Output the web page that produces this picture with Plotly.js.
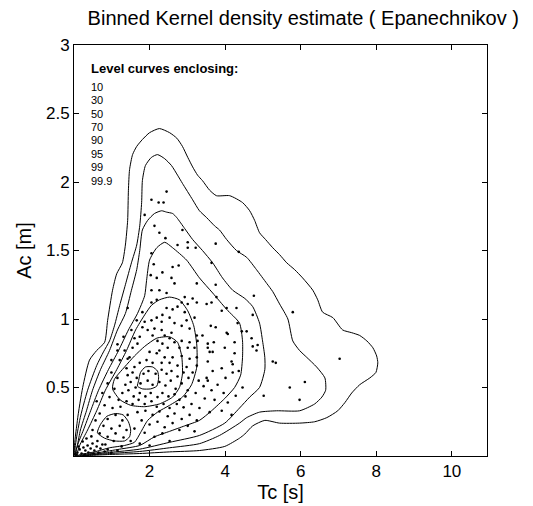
<!DOCTYPE html>
<html><head><meta charset="utf-8">
<script src="https://cdn.plot.ly/plotly-3.0.1.min.js"></script>
<style>html,body{margin:0;padding:0;background:#fff}#chart{width:533px;height:506px}</style>
</head><body><div id="chart"></div>
<script>
// Level labels
const levels = ['10','30','50','70','90','95','99','99.9'];
const xTicks = [2,4,6,8,10];
const yTicks = [0.5,1,1.5,2,2.5,3];

// Contour curves (Tc [s], Ac [m])
const c999x = [0.03,0.09,0.23,0.41,0.60,0.81,0.89,1.02,1.13,1.28,1.36,1.42,1.44,1.47,1.55,1.66,1.81,2.00,2.26,2.53,2.72,2.87,3.01,3.14,3.27,3.40,3.59,3.77,4.12,4.46,4.65,4.78,4.91,5.07,5.26,5.44,5.63,5.84,6.05,6.32,6.45,6.58,6.85,7.11,7.35,7.56,7.75,7.91,8.01,8.04,7.99,7.83,7.56,7.35,7.17,6.98,6.69,6.37,5.97,5.44,5.05,4.73,4.52,4.38,3.99,3.32,2.53,1.74,0.94,0.41,0.03];
const c999y = [0.00,0.26,0.50,0.70,0.77,0.83,0.99,1.21,1.33,1.41,1.54,1.72,1.94,2.09,2.20,2.26,2.31,2.36,2.39,2.36,2.32,2.26,2.18,2.11,2.05,2.01,1.94,1.90,1.90,1.85,1.79,1.72,1.63,1.58,1.52,1.47,1.41,1.36,1.30,1.21,1.14,1.05,1.01,0.92,0.90,0.88,0.84,0.79,0.73,0.68,0.61,0.57,0.52,0.46,0.39,0.33,0.28,0.25,0.24,0.24,0.26,0.22,0.16,0.13,0.07,0.04,0.03,0.018,0.011,0.004,0.00];
const c99x = [0.04,0.15,0.36,0.60,0.78,0.94,1.07,1.21,1.36,1.52,1.66,1.74,1.79,1.81,1.89,2.05,2.21,2.40,2.58,2.74,2.87,3.14,3.32,3.51,3.72,3.85,4.04,4.30,4.57,4.83,5.10,5.26,5.44,5.66,5.79,5.97,6.16,6.42,6.64,6.66,6.56,6.37,5.97,5.36,4.91,4.57,4.38,3.85,3.32,2.53,1.74,0.94,0.41,0.04];
const c99y = [0.00,0.26,0.48,0.66,0.76,0.84,0.95,1.10,1.25,1.41,1.54,1.68,1.85,2.01,2.12,2.18,2.20,2.17,2.12,2.05,1.99,1.87,1.79,1.74,1.68,1.65,1.58,1.50,1.45,1.36,1.26,1.20,1.11,1.00,0.84,0.77,0.72,0.65,0.57,0.48,0.43,0.38,0.33,0.33,0.32,0.28,0.24,0.15,0.09,0.06,0.033,0.018,0.007,0.00];
const c95x = [0.04,0.09,0.17,0.33,0.49,0.70,0.94,1.15,1.36,1.52,1.66,1.74,1.81,1.95,2.13,2.32,2.45,2.61,2.72,2.93,3.14,3.40,3.67,3.93,4.20,4.52,4.73,4.91,4.99,5.05,5.05,4.91,4.65,4.38,3.99,3.32,2.53,1.74,0.94,0.41,0.04];
const c95y = [0.00,0.077,0.19,0.33,0.48,0.63,0.77,0.92,1.04,1.21,1.36,1.50,1.65,1.72,1.77,1.79,1.78,1.77,1.74,1.66,1.58,1.50,1.41,1.30,1.21,1.15,1.09,0.97,0.84,0.72,0.63,0.50,0.43,0.35,0.24,0.15,0.10,0.05,0.026,0.011,0.00];
const c90x = [0.04,0.09,0.25,0.44,0.65,0.91,1.18,1.44,1.68,1.87,1.92,2.00,2.19,2.40,2.61,2.98,3.32,3.67,4.04,4.38,4.46,4.46,4.41,4.25,3.99,3.64,3.32,2.93,2.53,2.13,1.74,1.21,0.68,0.28,0.04];
const c90y = [0.00,0.077,0.19,0.33,0.48,0.63,0.77,0.92,1.04,1.17,1.28,1.43,1.52,1.56,1.52,1.43,1.30,1.19,1.07,0.97,0.84,0.72,0.59,0.50,0.42,0.33,0.26,0.22,0.18,0.14,0.077,0.05,0.026,0.011,0.00];
const c70x = [0.07,0.15,0.36,0.60,0.83,1.13,1.39,1.63,1.87,2.05,2.26,2.53,2.79,3.01,3.17,3.25,3.25,3.11,2.87,2.53,2.21,1.95,1.76,1.60,1.34,0.94,0.54,0.15,0.07];
const c70y = [0.00,0.077,0.19,0.33,0.48,0.63,0.77,0.92,1.03,1.10,1.14,1.16,1.14,1.06,0.95,0.81,0.65,0.52,0.43,0.37,0.32,0.26,0.17,0.10,0.077,0.06,0.03,0.01,0.00];
const c50x = [2.19,2.53,2.74,2.85,2.87,2.79,2.61,2.26,1.87,1.50,1.22,1.02,1.07,1.34,1.60,1.87,2.19];
const c50y = [0.86,0.87,0.83,0.73,0.60,0.50,0.43,0.38,0.36,0.37,0.41,0.49,0.56,0.65,0.73,0.80,0.86];
const c50bx = [0.62,0.70,0.87,1.10,1.30,1.44,1.50,1.47,1.34,1.07,0.81,0.62];
const c50by = [0.17,0.23,0.29,0.31,0.30,0.25,0.19,0.14,0.11,0.11,0.13,0.17];
const c30x = [1.71,1.76,1.89,2.08,2.21,2.24,2.19,2.03,1.81,1.68,1.71];
const c30y = [0.55,0.61,0.65,0.65,0.62,0.57,0.51,0.49,0.49,0.51,0.55];

// Observations (Tc, Ac)
const tcPoints = [
2.45,2.05,2.24,2.37,1.87,2.13,2.26,2.87,2.42,2.74,3.01,3.22,3.01,3.75,4.36,3.64,3.25,3.75,4.76,2.05,
2.11,2.03,2.19,2.34,2.61,2.77,2.66,2.58,2.26,2.45,2.05,3.77,3.14,2.93,2.85,3.01,3.25,3.51,3.64,3.91,
4.04,4.30,4.73,2.19,2.05,1.42,5.79,3.62,3.75,4.33,4.44,4.57,4.70,4.86,4.73,4.83,4.07,4.25,3.70,3.54,
3.99,4.25,4.17,4.20,5.26,5.34,7.03,3.59,3.54,3.67,3.91,4.20,4.36,3.51,6.11,5.97,4.46,5.02,5.71,4.01,3.54,
2.45,2.61,2.74,2.93,2.34,2.53,2.98,3.19,2.19,2.05,1.87,2.32,2.66,2.85,4.04,3.06,2.32,1.81,2.13,2.58,
3.25,3.40,3.27,1.74,2.08,2.40,2.53,2.66,2.85,3.06,2.21,2.34,3.54,3.67,3.19,3.01,2.79,2.48,2.26,2.00,
2.19,2.40,2.61,2.85,3.06,3.25,1.68,1.55,1.47,1.74,1.92,2.08,2.32,2.53,2.74,2.98,3.25,1.39,1.60,
1.42,1.55,1.66,1.84,1.97,2.16,2.32,2.45,2.58,2.74,2.90,3.03,1.36,1.50,1.63,1.76,1.95,2.08,2.26,2.42,2.56,2.69,2.85,3.01,
1.28,1.44,1.58,1.74,1.89,2.03,2.21,2.34,2.50,2.66,2.79,2.95,1.39,1.55,1.71,1.87,2.05,2.19,2.37,2.53,2.72,2.90,3.11,
0.99,1.15,0.89,1.07,0.75,0.94,1.18,0.60,0.81,1.02,1.23,0.68,0.89,1.10,1.28,1.42,0.57,0.78,0.99,1.21,1.39,
0.49,0.68,0.89,1.10,1.31,1.50,0.62,0.83,1.05,1.26,
0.09,0.15,0.20,0.25,0.30,0.36,0.38,0.44,0.49,0.54,0.60,0.65,0.70,0.75,0.81,0.23,0.33,0.46,0.12,0.07,0.28,0.52,0.89,0.99,1.15,
1.68,1.89,2.08,2.26,2.48,2.66,2.85,3.06,3.25,1.79,2.00,2.21,2.40,2.61,2.79,3.01,3.19,1.60,1.87,2.13,2.34,2.53,1.74,2.00,
3.14,3.30,3.43,3.64,3.80,3.96,3.22,3.46,3.72,4.07,4.28,3.32,3.59,3.91,4.17,
1.52,1.66,1.34,1.21,1.81,1.60,1.42,1.95,1.15,0.99,1.15,1.31];
const acPoints = [
1.93,1.87,1.85,1.85,1.76,1.68,1.63,1.65,1.59,1.54,1.56,1.52,1.52,1.55,1.49,1.41,1.26,1.25,1.17,1.48,
1.40,1.32,1.30,1.34,1.38,1.39,1.26,1.30,1.21,1.19,1.21,1.16,1.15,1.16,1.12,1.11,1.12,1.11,1.12,1.06,
1.08,1.08,1.03,1.14,1.12,1.08,1.05,0.95,0.94,0.97,0.91,0.91,0.86,0.81,0.80,0.77,0.89,0.83,0.83,0.79,
0.79,0.75,0.69,0.67,0.69,0.68,0.71,0.76,0.69,0.62,0.64,0.61,0.62,0.57,0.54,0.41,0.50,0.44,0.50,0.57,0.55,
1.08,1.07,1.09,1.05,1.03,1.01,0.99,1.01,1.01,0.99,0.98,0.98,0.97,0.95,0.90,0.93,0.92,0.94,0.93,0.90,
0.88,0.88,0.84,0.87,0.88,0.88,0.86,0.83,0.84,0.83,0.84,0.82,0.82,0.76,0.79,0.79,0.79,0.79,0.77,0.76,
0.75,0.72,0.72,0.73,0.71,0.72,0.82,0.79,0.72,0.68,0.70,0.68,0.68,0.68,0.66,0.65,0.66,0.64,0.65,
0.59,0.61,0.57,0.60,0.62,0.60,0.63,0.60,0.62,0.58,0.61,0.57,0.52,0.54,0.50,0.53,0.55,0.52,0.54,0.515,0.55,0.49,0.53,0.48,
0.46,0.48,0.435,0.46,0.435,0.46,0.43,0.46,0.435,0.45,0.41,0.435,0.40,0.38,0.41,0.38,0.40,0.36,0.38,0.35,0.38,0.355,0.38,
0.61,0.57,0.53,0.49,0.46,0.43,0.41,0.40,0.37,0.35,0.36,0.31,0.27,0.30,0.26,0.30,0.26,0.22,0.20,0.22,0.19,
0.19,0.165,0.14,0.165,0.135,0.11,0.11,0.084,0.11,0.07,
0.026,0.048,0.018,0.062,0.04,0.077,0.026,0.055,0.091,0.04,0.069,0.026,0.055,0.084,0.033,0.106,0.128,0.143,0.069,0.011,0.011,0.018,0.048,0.026,0.04,
0.32,0.33,0.30,0.325,0.29,0.31,0.27,0.30,0.26,0.26,0.23,0.25,0.21,0.24,0.19,0.22,0.18,0.20,0.17,0.14,0.165,0.11,0.09,0.077,
0.61,0.55,0.51,0.48,0.52,0.46,0.46,0.42,0.41,0.39,0.44,0.35,0.32,0.33,0.30,
0.92,0.99,0.77,0.70,1.05,0.86,0.71,0.92,0.77,0.70,0.815,0.87];

const FONT = 'Liberation Sans, Arial, Helvetica, sans-serif';
const curves = [
  [c999x,c999y,'99.9'],[c99x,c99y,'99'],[c95x,c95y,'95'],[c90x,c90y,'90'],
  [c70x,c70y,'70'],[c50x,c50y,'50'],[c50bx,c50by,'50'],[c30x,c30y,'30']
];
const traces = curves.map(c => ({
  type:'scatter', mode:'lines', x:c[0], y:c[1], name:c[2],
  line:{color:'#000', width:1, shape:'spline', smoothing:0.6},
  hoverinfo:'skip', showlegend:false
}));
traces.push({
  type:'scatter', mode:'markers', x:tcPoints, y:acPoints,
  marker:{color:'#000', size:2.6}, showlegend:false, hoverinfo:'x+y'
});

const annotations = [{
  xref:'paper', yref:'paper', x:0.037, y:0.943, xanchor:'left', yanchor:'middle',
  text:'<b>Level curves enclosing:</b>', showarrow:false, font:{family:FONT, size:13, color:'#000'}
}];
levels.forEach((lv,i) => {
  annotations.push({
    xref:'paper', yref:'paper', x:0.037, y:(456-(86.7+13.43*i))/411,
    xanchor:'left', yanchor:'middle', text:lv, showarrow:false,
    font:{family:FONT, size:11, color:'#000'}
  });
});

const axisCommon = {
  showline:true, linecolor:'#000', linewidth:1, mirror:'ticks',
  ticks:'inside', ticklen:5, tickwidth:1, tickcolor:'#000',
  showgrid:false, zeroline:false, tickfont:{family:FONT, size:17, color:'#000'}
};
const layout = {
  width:533, height:506,
  margin:{l:74, r:46, t:45, b:50, pad:0},
  paper_bgcolor:'#fff', plot_bgcolor:'#fff',
  font:{family:FONT, color:'#000'},
  title:{text:'Binned Kernel density estimate ( Epanechnikov )', font:{family:FONT, size:20, color:'#000'},
         xref:'container', x:0.569, xanchor:'center', yref:'container', y:0.964, yanchor:'middle'},
  xaxis:Object.assign({}, axisCommon, {range:[0,10.93], tickvals:xTicks, ticktext:xTicks.map(String),
         title:{text:'Tc [s]', font:{family:FONT, size:20, color:'#000'}, standoff:2}}),
  yaxis:Object.assign({}, axisCommon, {range:[0,3], tickvals:yTicks, ticktext:yTicks.map(String),
         title:{text:'Ac [m]', font:{family:FONT, size:20, color:'#000'}, standoff:8}}),
  annotations:annotations,
  showlegend:false
};
Plotly.newPlot('chart', traces, layout, {displayModeBar:false, staticPlot:true});
</script></body></html>
